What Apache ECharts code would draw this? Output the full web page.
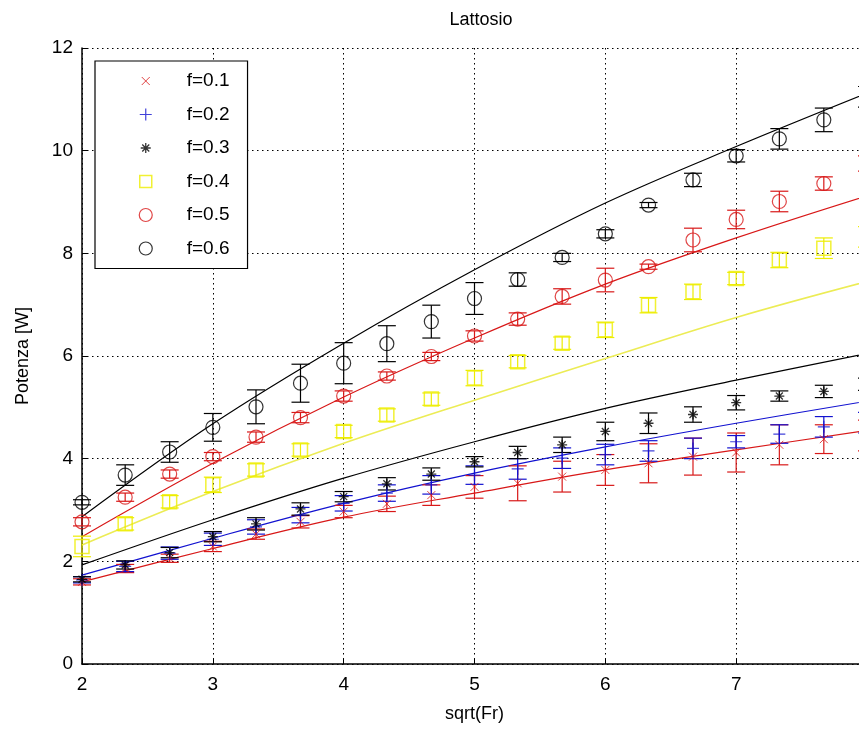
<!DOCTYPE html>
<html>
<head>
<meta charset="utf-8">
<script src="https://cdn.jsdelivr.net/npm/echarts@6/dist/echarts.min.js"></script>
<style>
  html, body { margin: 0; padding: 0; background: #fff; }
  #chart { width: 859px; height: 734px; }
</style>
</head>
<body>
<div id="chart"></div>
<script>
// Measured points: sqrt(Fr) positions
const sqrtFr = [2.00, 2.33, 2.67, 3.00, 3.33, 3.67, 4.00, 4.33, 4.67, 5.00, 5.33, 5.67, 6.00, 6.33, 6.67, 7.00, 7.33, 7.67, 8.00];

// Measured power [W] and error half-widths for each f
const p01 = [1.60, 1.86, 2.06, 2.29, 2.53, 2.77, 2.97, 3.12, 3.29, 3.45, 3.52, 3.65, 3.78, 3.91, 4.04, 4.12, 4.27, 4.38, 4.45];
const e01 = [0.06, 0.08, 0.08, 0.10, 0.10, 0.12, 0.12, 0.15, 0.20, 0.22, 0.34, 0.30, 0.30, 0.38, 0.36, 0.38, 0.39, 0.28, 0.30];
const p02 = [1.64, 1.90, 2.16, 2.43, 2.67, 2.90, 3.13, 3.33, 3.49, 3.68, 3.80, 4.01, 4.08, 4.15, 4.20, 4.33, 4.48, 4.62, 4.70];
const e02 = [0.06, 0.10, 0.12, 0.12, 0.14, 0.15, 0.15, 0.16, 0.18, 0.18, 0.20, 0.20, 0.20, 0.20, 0.20, 0.12, 0.18, 0.20, 0.20];
const p03 = [1.65, 1.93, 2.17, 2.48, 2.73, 3.02, 3.26, 3.51, 3.70, 3.94, 4.12, 4.27, 4.53, 4.69, 4.86, 5.09, 5.22, 5.31, 5.45];
const e03 = [0.05, 0.08, 0.10, 0.10, 0.12, 0.12, 0.10, 0.12, 0.12, 0.10, 0.12, 0.15, 0.18, 0.20, 0.15, 0.14, 0.10, 0.12, 0.12];
const p04 = [2.29, 2.73, 3.16, 3.49, 3.78, 4.17, 4.53, 4.85, 5.16, 5.57, 5.89, 6.25, 6.51, 6.99, 7.25, 7.51, 7.87, 8.10, 8.32];
const e04 = [0.20, 0.12, 0.12, 0.15, 0.12, 0.12, 0.12, 0.12, 0.12, 0.15, 0.12, 0.12, 0.15, 0.15, 0.15, 0.12, 0.15, 0.20, 0.20];
const p05 = [2.77, 3.25, 3.70, 4.04, 4.42, 4.80, 5.22, 5.61, 5.99, 6.39, 6.72, 7.16, 7.48, 7.74, 8.26, 8.66, 9.01, 9.36, 9.75];
const e05 = [0.08, 0.08, 0.08, 0.08, 0.10, 0.10, 0.10, 0.08, 0.08, 0.10, 0.12, 0.15, 0.23, 0.05, 0.23, 0.18, 0.20, 0.13, 0.15];
const p06 = [3.15, 3.68, 4.13, 4.61, 5.01, 5.47, 5.86, 6.24, 6.67, 7.12, 7.49, 7.92, 8.38, 8.94, 9.43, 9.90, 10.23, 10.60, 11.05];
const e06 = [0.05, 0.20, 0.20, 0.27, 0.33, 0.37, 0.40, 0.35, 0.32, 0.31, 0.13, 0.08, 0.08, 0.05, 0.13, 0.12, 0.20, 0.23, 0.20];

// Model curves
const fitX = [2, 3, 4, 5, 6, 7, 8];
const fit01 = [1.60, 2.25, 2.86, 3.33, 3.78, 4.17, 4.55];
const fit02 = [1.73, 2.45, 3.13, 3.72, 4.23, 4.69, 5.12];
const fit03 = [1.93, 2.81, 3.62, 4.33, 4.98, 5.53, 6.05];
const fit04 = [2.32, 3.36, 4.30, 5.14, 5.95, 6.75, 7.45];
const fit05 = [2.48, 3.91, 5.20, 6.35, 7.40, 8.30, 9.12];
const fit06 = [2.87, 4.68, 6.25, 7.68, 8.98, 10.08, 11.12];

const names = ['f=0.1', 'f=0.2', 'f=0.3', 'f=0.4', 'f=0.5', 'f=0.6'];

const FONT = '"Liberation Sans", Arial, sans-serif';
const RED = '#d81818', BLUE = '#1212d0', BLACK = '#000000', YELLOW = '#eded00';

// Plot markers
const SYM_X = 'path://M0,0L10,10M0,10L10,0';
const SYM_PLUS = 'path://M5,0L5,10M0,5L10,5';
const SYM_STAR = 'path://M5,0L5,10M0,5L10,5M1.5,1.5L8.5,8.5M1.5,8.5L8.5,1.5';
const SYM_SQUARE = 'path://M0,0L10,0L10,10L0,10Z';
// Legend icons: drawn on a full 72x14 canvas so every entry keeps the same width
const LEG_X = 'path://M0,0M72,14M32,3L40,11M32,11L40,3';
const LEG_PLUS = 'path://M0,0M72,14M36,1L36,13M30,7L42,7';
const LEG_STAR = 'path://M0,0M72,14M36,2L36,12M31,7L41,7M32.5,3.5L39.5,10.5M32.5,10.5L39.5,3.5';
const LEG_SQUARE = 'path://M0,0M72,14M30,1L42,1L42,13L30,13Z';
const LEG_CIRCLE = 'path://M0,0M72,14M42.5,7A6.5,6.5,0,1,1,29.5,7A6.5,6.5,0,1,1,42.5,7Z';

const groups = [
  { name: names[0], p: p01, e: e01, fit: fit01, color: RED,    lineColor: RED,       symbol: SYM_X,      legendIcon: LEG_X,      size: 8,  bw: 1 },
  { name: names[1], p: p02, e: e02, fit: fit02, color: BLUE,   lineColor: BLUE,      symbol: SYM_PLUS,   legendIcon: LEG_PLUS,   size: 12, bw: 1.2 },
  { name: names[2], p: p03, e: e03, fit: fit03, color: BLACK,  lineColor: BLACK,     symbol: SYM_STAR,   legendIcon: LEG_STAR,   size: 10, bw: 1.3 },
  { name: names[3], p: p04, e: e04, fit: fit04, color: YELLOW, lineColor: '#ecec55', symbol: SYM_SQUARE, legendIcon: LEG_SQUARE, size: 14, bw: 1.5 },
  { name: names[4], p: p05, e: e05, fit: fit05, color: RED,    lineColor: RED,       symbol: 'circle',   legendIcon: LEG_CIRCLE, size: 14, bw: 1.2 },
  { name: names[5], p: p06, e: e06, fit: fit06, color: BLACK,  lineColor: BLACK,     symbol: 'circle',   legendIcon: LEG_CIRCLE, size: 14, bw: 1.2 }
];

function errorBars(color) {
  return function (params, api) {
    const x = api.value(0), y = api.value(1), e = api.value(2);
    const top = api.coord([x, y + e]);
    const bot = api.coord([x, y - e]);
    const hw = 9;
    const style = { stroke: color, lineWidth: 1.2, fill: null };
    return {
      type: 'group',
      children: [
        { type: 'line', shape: { x1: top[0], y1: top[1], x2: bot[0], y2: bot[1] }, style: style },
        { type: 'line', shape: { x1: top[0] - hw, y1: top[1], x2: top[0] + hw, y2: top[1] }, style: style },
        { type: 'line', shape: { x1: bot[0] - hw, y1: bot[1], x2: bot[0] + hw, y2: bot[1] }, style: style }
      ]
    };
  };
}

const series = [];
groups.forEach(function (g) {
  series.push({
    type: 'custom',
    name: g.name + ' err',
    renderItem: errorBars(g.color),
    encode: { x: 0, y: 1 },
    data: sqrtFr.map(function (x, i) { return [x, g.p[i], g.e[i]]; }),
    z: 3,
    silent: true
  });
  series.push({
    type: 'scatter',
    name: g.name,
    symbol: g.symbol,
    symbolSize: g.size,
    symbolKeepAspect: true,
    itemStyle: { color: 'rgba(0,0,0,0)', borderColor: g.color, borderWidth: g.bw },
    data: sqrtFr.map(function (x, i) { return [x, g.p[i]]; }),
    z: 4,
    silent: true
  });
  series.push({
    type: 'line',
    name: g.name + ' fit',
    data: fitX.map(function (x, i) { return [x, g.fit[i]]; }),
    smooth: 0.35,
    showSymbol: false,
    lineStyle: { color: g.lineColor, width: g.color === YELLOW ? 1.6 : 1.2 },
    z: 2,
    silent: true
  });
});

const chart = echarts.init(document.getElementById('chart'), null, { renderer: 'canvas' });
chart.setOption({
  animation: false,
  backgroundColor: '#fff',
  title: {
    text: 'Lattosio',
    left: 476,
    textAlign: 'center',
    top: 6,
    textStyle: { fontFamily: FONT, fontSize: 18, fontWeight: 'normal', color: '#000' }
  },
  legend: {
    orient: 'vertical',
    left: 95,
    top: 61,
    data: groups.map(function (g) {
      return {
        name: g.name,
        icon: g.legendIcon,
        itemStyle: { color: 'rgba(0,0,0,0)', borderColor: g.color, borderWidth: g.bw }
      };
    }),
    itemWidth: 72,
    itemHeight: 14,
    itemGap: 13.5,
    padding: [10, 18, 10, 14],
    backgroundColor: '#fff',
    borderColor: '#000',
    borderWidth: 1.2,
    selectedMode: false,
    textStyle: { fontFamily: FONT, fontSize: 19, color: '#000', lineHeight: 20 }
  },
  grid: { left: 82, right: -8, top: 48, bottom: 70, outerBoundsMode: 'none', containLabel: false },
  xAxis: {
    type: 'value',
    min: 2, max: 8, interval: 1,
    name: 'sqrt(Fr)',
    nameLocation: 'middle',
    nameGap: 41,
    nameTextStyle: { fontFamily: FONT, fontSize: 18, color: '#000' },
    axisLine: { show: true, onZero: false, lineStyle: { color: '#000', width: 1.5 } },
    axisTick: { show: true, inside: true, length: 6, lineStyle: { color: '#000' } },
    axisLabel: { fontFamily: FONT, fontSize: 19, color: '#000', margin: 11 },
    splitLine: { show: true, lineStyle: { color: '#000', type: [1.5, 3.5], width: 1 } }
  },
  yAxis: {
    type: 'value',
    min: 0, max: 12, interval: 2,
    name: 'Potenza [W]',
    nameLocation: 'middle',
    nameGap: 50,
    nameTextStyle: { fontFamily: FONT, fontSize: 18, color: '#000' },
    axisLine: { show: true, lineStyle: { color: '#000', width: 1.5 } },
    axisTick: { show: true, inside: true, length: 6, lineStyle: { color: '#000' } },
    axisLabel: { fontFamily: FONT, fontSize: 19, color: '#000', margin: 9 },
    splitLine: { show: true, lineStyle: { color: '#000', type: [1.5, 3.5], width: 1 } }
  },
  series: series
});
</script>
</body>
</html>
